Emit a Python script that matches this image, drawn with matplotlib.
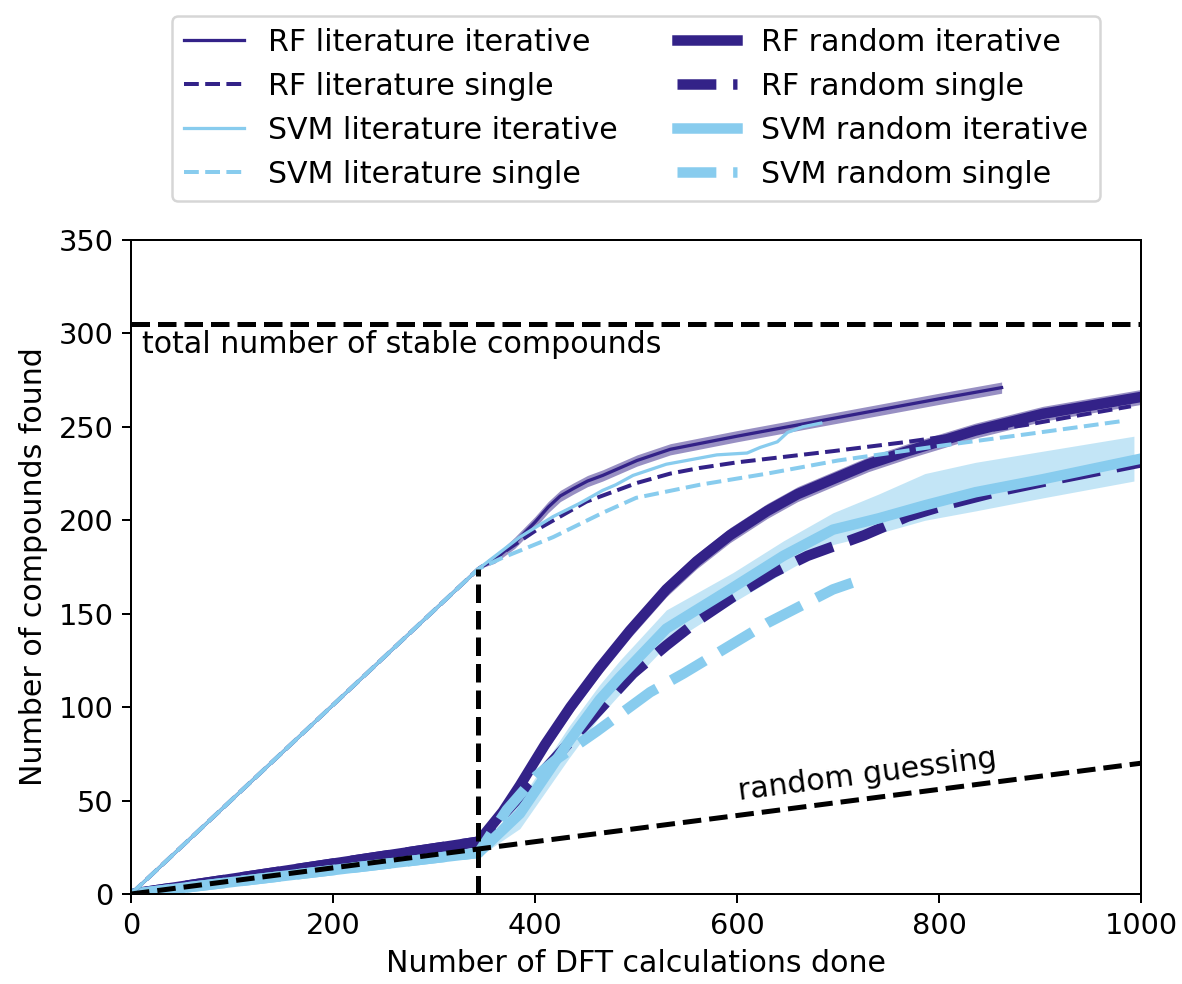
import numpy as np
import matplotlib
matplotlib.use("Agg")
import matplotlib.pyplot as plt

DARK = "#332288"
LIGHT = "#88CCEE"

# ---- data ----
n_lit = 344
n_stable = 305
lit_start = 174

# literature start, RF iterative
rf_lit_it_x = [0, 344, 360, 380, 400, 413, 425, 438, 452, 467, 501, 534, 600, 650, 700, 750, 800, 862]
rf_lit_it_y = [0, 174, 179, 188, 199, 207, 213, 217, 221, 224, 232, 238, 245, 250, 255, 260, 265, 271]
rf_lit_it_err = [0, 0, 2, 3, 3, 3, 3, 3, 3, 3, 3, 3, 3, 3, 3, 3, 3, 3]

rf_lit_si_x = [0, 344, 402, 451, 501, 534, 563, 600, 695, 769, 886, 937, 990]
rf_lit_si_y = [0, 174, 195, 210, 220, 225, 228, 231, 237, 242, 251, 256, 261]

svm_lit_it_x = [0, 344, 385, 418, 444, 467, 480, 497, 530, 580, 610, 623, 640, 650, 665, 683]
svm_lit_it_y = [0, 174, 191, 202, 209, 216, 219, 224, 230, 235, 236, 239, 242, 247, 250, 252]

svm_lit_si_x = [0, 344, 368, 418, 467, 500, 563, 630, 700, 803, 886, 980]
svm_lit_si_y = [0, 174, 180, 191, 204, 212, 219, 225, 232, 240, 246, 253]

# random start
rf_rnd_it_x = [0, 344, 368, 385, 410, 435, 464, 494, 530, 560, 593, 630, 660, 695, 730, 769, 836, 903, 1000]
rf_rnd_it_y = [0, 28, 44, 58, 80, 100, 121, 141, 163, 178, 192, 205, 214, 222, 230, 237, 248, 257, 266]
rf_rnd_it_err = [0, 0, 3, 3, 4, 4, 4, 4, 4, 4, 4, 4, 4, 4, 4, 4, 4, 4, 4]

rf_rnd_si_x = [0, 344, 395, 444, 497, 530, 563, 596, 636, 670, 726, 769, 812, 863, 916, 963, 1000]
rf_rnd_si_y = [0, 28, 58, 87, 118, 133, 147, 159, 172, 181, 192, 202, 209, 216, 222, 227, 231]

svm_rnd_it_x = [0, 344, 385, 434, 464, 484, 530, 596, 646, 695, 740, 786, 836, 903, 1000]
svm_rnd_it_y = [0, 22, 43, 82, 104, 116, 142, 164, 181, 195, 201, 208, 215, 222, 233]
svm_band_x = [0, 344, 385, 434, 464, 484, 530, 596, 646, 695, 740, 786, 836, 903, 993]
svm_band_lo = [0, 20, 35, 73, 95, 107, 133, 156, 172, 187, 193, 200, 205, 212, 221]
svm_band_hi = [0, 24, 50, 90, 112, 125, 152, 172, 189, 204, 214, 225, 231, 237, 245]

svm_rnd_si_x = [0, 344, 372, 401, 421, 461, 514, 547, 630, 695, 727]
svm_rnd_si_y = [0, 22, 45, 63, 72, 87, 108, 118, 145, 163, 169]

rand_guess_x = [0, 1000]
rand_guess_y = [0, 70]

labels = ["RF literature iterative", "RF literature single",
          "SVM literature iterative", "SVM literature single",
          "RF random iterative", "RF random single",
          "SVM random iterative", "SVM random single"]

# ---- plot ----
fig = plt.figure(figsize=(1182 / 180, 984 / 180), dpi=180)
ax = fig.add_axes([131 / 1182, 90 / 984, 1010 / 1182, 654 / 984])

def band(x, y, e, color):
    x = np.asarray(x, float); y = np.asarray(y, float); e = np.asarray(e, float)
    ax.fill_between(x, y - e, y + e, color=color, alpha=0.5, lw=0)

band(rf_rnd_it_x, rf_rnd_it_y, rf_rnd_it_err, DARK)
ax.fill_between(svm_band_x, svm_band_lo, svm_band_hi, color=LIGHT, alpha=0.5, lw=0)
band(rf_lit_it_x, rf_lit_it_y, rf_lit_it_err, DARK)

thin, thinD, thick = 1.3, 1.6, 4.2
h = {}
h[4], = ax.plot(rf_rnd_it_x, rf_rnd_it_y, color=DARK, lw=thick)
h[5], = ax.plot(rf_rnd_si_x, rf_rnd_si_y, color=DARK, lw=thick, ls="--")
h[6], = ax.plot(svm_rnd_it_x, svm_rnd_it_y, color=LIGHT, lw=thick)
h[7], = ax.plot(svm_rnd_si_x, svm_rnd_si_y, color=LIGHT, lw=thick, ls="--")
h[0], = ax.plot(rf_lit_it_x, rf_lit_it_y, color=DARK, lw=thin)
h[1], = ax.plot(rf_lit_si_x, rf_lit_si_y, color=DARK, lw=thinD, ls="--")
h[2], = ax.plot(svm_lit_it_x, svm_lit_it_y, color=LIGHT, lw=thin)
h[3], = ax.plot(svm_lit_si_x, svm_lit_si_y, color=LIGHT, lw=thinD, ls="--")

ax.plot(rand_guess_x, rand_guess_y, color="black", lw=2, ls="--")
ax.axhline(n_stable, color="black", lw=2, ls="--")
ax.plot([n_lit, n_lit], [0, lit_start], color="black", lw=2, ls="--")

ax.text(11, 302, "total number of stable compounds", fontsize=12, va="top", ha="left")
ax.text(603, 47, "random guessing", fontsize=12, rotation=7.4, ha="left", va="bottom",
        rotation_mode="anchor")

ax.set_xlim(0, 1000)
ax.set_ylim(0, 350)
ax.set_xlabel("Number of DFT calculations done", fontsize=12)
ax.set_ylabel("Number of compounds found", fontsize=12)
ax.tick_params(labelsize=11.5)

ax.legend([h[i] for i in range(8)], labels, ncol=2, fontsize=12,
          loc="lower center", bbox_to_anchor=(0.5, 1.06), borderaxespad=0)

fig.savefig("out.png", dpi=180)
